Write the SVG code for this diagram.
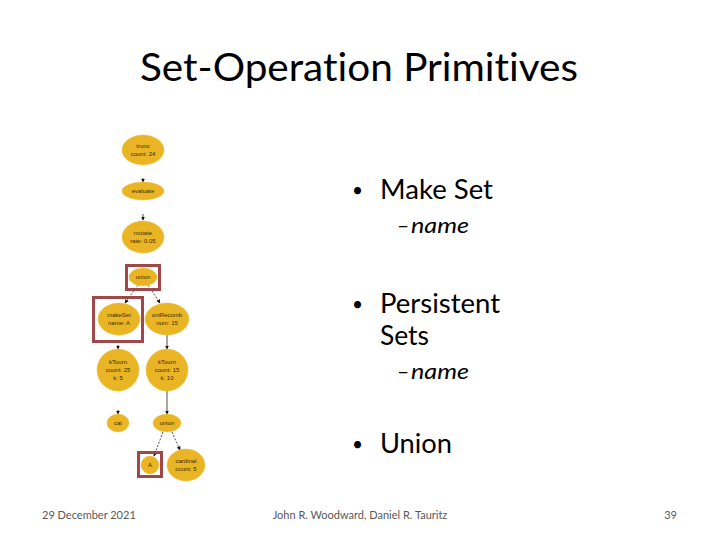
<svg xmlns="http://www.w3.org/2000/svg" width="720" height="540" viewBox="0 0 720 540">
<style>
.t{font-family:Lato,"Open Sans","Liberation Sans",sans-serif;fill:#000;font-variant-ligatures:none}
.b{font-family:Lato,"Open Sans","Liberation Sans",sans-serif;fill:#000;font-size:19px}
.n{fill:#E9B524;stroke:#F0C040;stroke-width:0.5}
.nt{font-family:"Liberation Sans",sans-serif;font-size:6px;fill:#3a2a00;text-anchor:middle}
.box{fill:none;stroke:#A0474A;stroke-width:3}
.e{stroke:#222;stroke-width:0.8;fill:none}
.d{stroke:#222;stroke-width:0.8;fill:none;stroke-dasharray:2,1.5}
.f{font-family:Lato,"Open Sans","Liberation Sans",sans-serif;font-size:11px;fill:#595959}
</style>
<defs>
<marker id="ah" markerWidth="4" markerHeight="4" refX="3.5" refY="2" orient="auto" markerUnits="userSpaceOnUse"><path d="M0,0 L4,2 L0,4 z" fill="#111"/></marker>
</defs>
<rect width="720" height="540" fill="#fff"/>
<text class="t" x="140" y="81" font-size="39" textLength="438" lengthAdjust="spacingAndGlyphs">Set-Operation Primitives</text>

<g id="connectors">
<line class="e" x1="143" y1="178" x2="143" y2="182" marker-end="url(#ah)"/>
<line class="e" x1="143" y1="214" x2="143" y2="220" marker-end="url(#ah)"/>
<line class="d" x1="138" y1="285" x2="125" y2="303" marker-end="url(#ah)"/>
<line class="d" x1="148" y1="285" x2="160" y2="303" marker-end="url(#ah)"/>
<line class="e" x1="118" y1="345" x2="118" y2="349" marker-end="url(#ah)"/>
<line class="e" x1="167" y1="335" x2="167" y2="349" marker-end="url(#ah)"/>
<line class="e" x1="118" y1="410" x2="118" y2="414" marker-end="url(#ah)"/>
<line class="e" x1="167" y1="391" x2="167" y2="414" marker-end="url(#ah)"/>
<line class="d" x1="163" y1="432" x2="154" y2="456" marker-end="url(#ah)"/>
<line class="d" x1="172" y1="432" x2="180" y2="450" marker-end="url(#ah)"/>
</g>

<g id="n-trunc"><ellipse class="n" cx="143" cy="150" rx="21" ry="15"/><text class="nt" x="143" y="148">trunc</text><text class="nt" x="143" y="156">count: 24</text></g>
<g id="n-evaluate"><ellipse class="n" cx="143" cy="191" rx="21" ry="9"/><text class="nt" x="143" y="193">evaluate</text></g>
<g id="n-mutate"><ellipse class="n" cx="143" cy="237" rx="21" ry="16"/><text class="nt" x="143" y="235">mutate</text><text class="nt" x="143" y="243">rate: 0.05</text></g>
<g id="n-union1"><rect class="box" x="126.5" y="265.5" width="33" height="24"/><ellipse class="n" cx="143" cy="277" rx="14" ry="9"/><text class="nt" x="143" y="279">union</text></g>
<g id="n-makeSet"><rect class="box" x="93.5" y="297.5" width="49" height="44"/><ellipse class="n" cx="119" cy="319" rx="21" ry="16"/><text class="nt" x="119" y="317">makeSet</text><text class="nt" x="119" y="325">name: A</text></g>
<g id="n-uniRecomb"><ellipse class="n" cx="167" cy="319" rx="22" ry="16"/><text class="nt" x="167" y="317">uniRecomb</text><text class="nt" x="167" y="325">num: 15</text></g>
<g id="n-kTourn1"><ellipse class="n" cx="118" cy="370" rx="21" ry="21"/><text class="nt" x="118" y="364">kTourn</text><text class="nt" x="118" y="372">count: 25</text><text class="nt" x="118" y="380">k: 5</text></g>
<g id="n-kTourn2"><ellipse class="n" cx="167" cy="370" rx="21" ry="21"/><text class="nt" x="167" y="364">kTourn</text><text class="nt" x="167" y="372">count: 15</text><text class="nt" x="167" y="380">k: 10</text></g>
<g id="n-cat"><ellipse class="n" cx="118" cy="423" rx="11" ry="9"/><text class="nt" x="118" y="425">cat</text></g>
<g id="n-union2"><ellipse class="n" cx="167" cy="423" rx="14" ry="9"/><text class="nt" x="167" y="425">union</text></g>
<g id="n-A"><rect class="box" x="138.5" y="452.5" width="23" height="24"/><ellipse class="n" cx="150" cy="465" rx="9" ry="9"/><text class="nt" x="150" y="467">A</text></g>
<g id="n-cardinal"><ellipse class="n" cx="186" cy="465" rx="19" ry="16"/><text class="nt" x="186" y="463">cardinal</text><text class="nt" x="186" y="471">count: 5</text></g>

<text class="b" x="352" y="197">•</text><text class="t" x="380" y="199" font-size="26" textLength="113" lengthAdjust="spacingAndGlyphs">Make Set</text>
<text class="t" x="397" y="233" font-size="21">–</text><text class="t" x="411" y="233" font-size="22" font-style="italic" textLength="58" lengthAdjust="spacingAndGlyphs">name</text>
<text class="b" x="352" y="311">•</text><text class="t" x="380" y="313" font-size="26" textLength="120" lengthAdjust="spacingAndGlyphs">Persistent</text>
<text class="t" x="380" y="345" font-size="26" textLength="49" lengthAdjust="spacingAndGlyphs">Sets</text>
<text class="t" x="397" y="379" font-size="21">–</text><text class="t" x="411" y="379" font-size="22" font-style="italic" textLength="58" lengthAdjust="spacingAndGlyphs">name</text>
<text class="b" x="352" y="451">•</text><text class="t" x="380" y="453" font-size="26" textLength="72" lengthAdjust="spacingAndGlyphs">Union</text>

<text class="f" x="42" y="519">29 December 2021</text>
<text class="f" x="360" y="519" text-anchor="middle">John R. Woodward, Daniel R. Tauritz</text>
<text class="f" x="677" y="519" text-anchor="end">39</text>
</svg>
